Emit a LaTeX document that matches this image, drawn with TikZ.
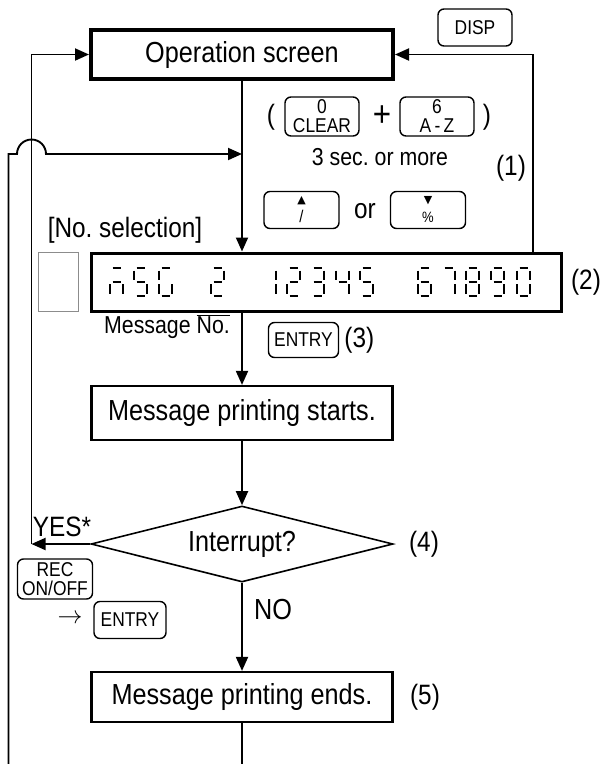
\documentclass[tikz,border=0pt]{standalone}
\usepackage{fontspec}
\setmainfont{Liberation Sans}[FakeStretch=0.87]
\newfontfamily\glyphfont{DejaVu Sans}
\usetikzlibrary{positioning, shapes.geometric, arrows.meta}
\frenchspacing

\newcommand\txtL{\fontsize{29}{32}\selectfont}
\newcommand\txtM{\fontsize{28}{30}\selectfont}
\newcommand\txtS{\fontsize{24.5}{27}\selectfont}
\newcommand\txtK{\fontsize{20}{19}\selectfont}

% one segment of the lcd, picked by its letter
\newcommand\segpart[1]{%
  \if#1a\draw[segline] (2.5,0) -- (10.5,0);\fi
  \if#1b\draw[segline] (13,2.5) -- (13,12);\fi
  \if#1c\draw[segline] (13,16) -- (13,25.5);\fi
  \if#1d\draw[segline] (2.5,28) -- (10.5,28);\fi
  \if#1e\draw[segline] (0,16) -- (0,25.5);\fi
  \if#1f\draw[segline] (0,2.5) -- (0,12);\fi
  \if#1g\draw[segline] (2.5,14) -- (10.5,14);\fi}
\newcommand\segchar[2]{%
  \begin{scope}[shift={(#1,268)}]
    \foreach \s in {#2} {\segpart{\s}}
  \end{scope}}

\begin{document}
\begin{tikzpicture}[
  x=1pt, y=-1pt,
  font=\txtL,
  line width=1.9pt,
  flow/.style={-{Triangle[length=14pt,width=12pt]}},
  opcard/.style={
    rectangle, draw, line width=4pt,
    minimum width=302pt, minimum height=49pt
  },
  printcard/.style={
    rectangle, draw, line width=2.2pt,
    minimum width=301pt, minimum height=54pt
  },
  lcdcard/.style={
    rectangle, draw, line width=3pt,
    minimum width=470pt, minimum height=58pt
  },
  askcard/.style={
    diamond, draw, line width=1.6pt, aspect=4,
    minimum width=302pt, minimum height=76pt, inner sep=0pt
  },
  keycard/.style={
    rectangle, draw, rounded corners=6pt, line width=1.4pt,
    minimum width=74pt, minimum height=37pt,
    inner sep=0.5pt, align=center, font=\txtK
  },
  segline/.style={line width=2pt}
]
\useasboundingbox (0,0) rectangle (603,764);

% main flow
\node[opcard] (op) at (242,54.5) {Operation screen};
\node[lcdcard] (lcd) at (326.5,282) {};
\node[draw=black!45, line width=1.2pt, minimum width=40pt, minimum height=59pt] (blank) at (58.5,282) {};
\node[printcard] (start) at (242,413) {Message printing starts.};
\node[askcard] (ask) at (242,544) {Interrupt?};
\node[printcard, minimum height=50pt] (end) at (242,697) {Message printing ends.};

% lcd text
\segchar{110}{a,g,e,c}
\segchar{134}{a,f,g,c,d}
\segchar{159}{a,f,e,d,c}
\segchar{211}{a,b,g,e,d}
\segchar{263}{b,c}
\segchar{287}{a,b,g,e,d}
\segchar{311}{a,b,g,c,d}
\segchar{336}{f,g,b,c}
\segchar{360}{a,f,g,c,d}
\segchar{418}{a,f,g,e,d,c}
\segchar{442}{a,b,c}
\segchar{466}{a,b,c,d,e,f,g}
\segchar{491}{a,b,c,d,f,g}
\segchar{517}{a,b,c,d,e,f}

% keys
\node[keycard] (disp) at (475,27.5) {DISP};
\node[keycard, minimum height=39pt] (clear) at (322,116.5) {0\\CLEAR};
\node[keycard, minimum height=39pt] (az) at (437,116.5) {6\\A\,-\,Z};
\node[keycard, minimum width=75pt] (up) at (301.5,210) {{\glyphfont\fontsize{11}{9}\selectfont ▲}\\{\fontsize{17}{15}\selectfont /}};
\node[keycard, minimum width=75pt] (down) at (428,210) {{\glyphfont\fontsize{11}{9}\selectfont ▼}\\{\fontsize{15}{15}\selectfont\%}};
\node[keycard, minimum width=70pt, minimum height=35pt] (entryA) at (303.5,340) {ENTRY};
\node[keycard, minimum width=75pt, minimum height=40pt] (rec) at (55,579) {REC\\ON/OFF};
\node[keycard, minimum width=72pt, minimum height=37pt] (entryB) at (130,620) {ENTRY};

% labels
\node[font=\txtM] (lpar) at (271,117) {(};
\node[font=\fontsize{36}{36}\selectfont] (plus) at (382,116) {+};
\node[font=\txtM] (rpar) at (487,117) {)};
\node[font=\txtS] (secs) at (380,157) {3 sec. or more};
\node[font=\txtM] (n1) at (511,168) {(1)};
\node[font=\txtM] (orword) at (365,211) {or};
\node[font=\txtM] (nosel) at (125,230) {[No. selection]};
\node[font=\txtM] (n2) at (586,282) {(2)};
\node[font=\txtS] (msgno) at (167,327) {Message $\overline{\mbox{No.}}$};
\node[font=\txtM, right=1pt of entryA] (n3) {(3)};
\node[font=\txtM] (yes) at (62,527) {YES*};
\node[font=\txtM] (n4) at (424,544) {(4)};
\node[font=\txtM] (thenkey) at (70,619) {$\rightarrow$};
\node[font=\txtL] (noword) at (273,610) {NO};
\node[font=\txtM] (n5) at (425,697) {(5)};

% connectors
\coordinate (ycorner) at (31.5,544);
\coordinate (rtop) at (533,0);
\coordinate (loopfoot) at (8.5,764);
\coordinate (loopturn) at (8.5,154);
\coordinate (hopin) at (17,154);

\draw[flow] (op.south) -- (op.south |- lcd.north);
\draw[flow] (lcd.north -| rtop) |- (op.east);
\draw[flow] (op.south |- lcd.south) -- (start.north);
\draw[flow] (start.south) -- (ask.north);
\draw[flow] (ask.south) -- (end.north);
\draw[flow] (ask.west) -- (ycorner);
\draw[flow] (ycorner) |- (op.west);
\draw[flow] (loopfoot) -- (loopturn) -- (hopin)
  arc[start angle=180, end angle=360, radius=14.5] -- (loopturn -| op.south);
\draw (end.south) -- (end.south |- loopfoot);

\end{tikzpicture}
\end{document}
